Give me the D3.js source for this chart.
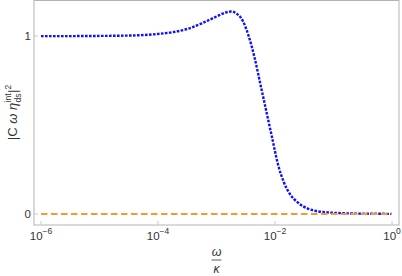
<!DOCTYPE html>
<html><head><meta charset="utf-8">
<script src="https://cdn.jsdelivr.net/npm/d3@7"></script>
<style>body{margin:0;background:#fff}svg{display:block}text{font-family:"Liberation Sans",Arial,sans-serif;fill:#333}</style>
</head><body>
<svg id="c" width="402" height="276"></svg>
<script>
// data (log10 of omega/kappa and |C ω η|^2 values)
const logOmega = [-6.0,-5.5,-5.0,-4.5,-4.0,-3.75,-3.5,-3.25,-3.0,-2.85,-2.75,-2.65,-2.55,-2.45,-2.35,-2.25,-2.15,-2.05,-1.95,-1.85,-1.75,-1.6,-1.45,-1.3,-1.1,-0.8,-0.5,0.0];
const seriesA  = [1.000,1.000,1.001,1.003,1.012,1.022,1.040,1.072,1.110,1.132,1.138,1.125,1.085,1.000,0.880,0.730,0.580,0.430,0.280,0.180,0.115,0.062,0.032,0.017,0.009,0.004,0.002,0.001];
const logOmegaB = [-6, 0];
const seriesB  = [0, 0];
const xTickExps = [-6,-4,-2,0];
const yTicks = [0,1];

const svg = d3.select("#c");
const L=34, R=399, T=0.5, B=225;
const pad=7/58.5;
const x = d3.scaleLog().domain([Math.pow(10,-6-pad), Math.pow(10,pad)]).range([L,R]);
const y = d3.scaleLinear().domain([-0.0617,1.2]).range([B,T]);

// frame
svg.append("rect").attr("x",L).attr("y",T).attr("width",R-L).attr("height",B-T)
  .attr("fill","none").attr("stroke","#b4b4b4").attr("stroke-width",1);

// ticks
const tk = svg.append("g");
xTickExps.forEach(e=>{
  const px = x(Math.pow(10,e));
  tk.append("line").attr("x1",px).attr("x2",px).attr("y1",B).attr("y2",B-4).attr("stroke","#c8c8c8");
  const t = tk.append("text").attr("x",px).attr("y",239.5).attr("text-anchor","middle").attr("font-size",11.5);
  t.append("tspan").text("10");
  t.append("tspan").attr("font-size",8.5).attr("dy",-5.5).text(e===0?"0":"\u2212"+(-e));
});
yTicks.forEach(v=>{
  const py = y(v);
  tk.append("line").attr("x1",L).attr("x2",L+4).attr("y1",py).attr("y2",py).attr("stroke","#c8c8c8");
  tk.append("text").attr("x",L-3).attr("y",py+4).attr("text-anchor","end").attr("font-size",11.5).text(v);
});

// lines
const line = d3.line().x(d=>x(Math.pow(10,d[0]))).y(d=>y(d[1])).curve(d3.curveMonotoneX);
svg.append("path").datum(logOmega.map((l,i)=>[l,seriesA[i]]))
  .attr("d",line).attr("fill","none").attr("stroke","#1010f5").attr("stroke-width",2.4)
  .attr("stroke-dasharray","2.6,1.4");
svg.append("path").datum(logOmegaB.map((l,i)=>[l,seriesB[i]]))
  .attr("d",line).attr("fill","none").attr("stroke","#f59a30").attr("stroke-width",1.8)
  .attr("stroke-dasharray","6.5,3.5");

// x label: fraction ω/κ
const cx=(L+R)/2;
svg.append("text").attr("x",cx).attr("y",255.5).attr("text-anchor","middle").attr("font-size",12.5).attr("font-style","italic").text("\u03C9");
svg.append("line").attr("x1",cx-5).attr("x2",cx+5).attr("y1",260).attr("y2",260).attr("stroke","#333").attr("stroke-width",0.8);
svg.append("text").attr("x",cx).attr("y",273).attr("text-anchor","middle").attr("font-size",12).attr("font-style","italic").text("\u03BA");

// y label
const g = svg.append("g").attr("transform","translate(17,112.5) rotate(-90)");
const parts = g.append("g");
const main = parts.append("text").attr("x",0).attr("y",0).attr("font-size",13);
main.append("tspan").text("|C ");
main.append("tspan").attr("font-style","italic").text("\u03C9 \u03B7");
let w = main.node().getComputedTextLength();
const sup = parts.append("text").attr("x",w+0.5).attr("y",-6).attr("font-size",8.5).text("int");
const sub = parts.append("text").attr("x",w+0.5).attr("y",3.5).attr("font-size",8.5).text("ds");
w += Math.max(sup.node().getComputedTextLength(), sub.node().getComputedTextLength())+1;
const bar = parts.append("text").attr("x",w).attr("y",0).attr("font-size",13).text("|");
w += bar.node().getComputedTextLength();
const two = parts.append("text").attr("x",w).attr("y",-6).attr("font-size",8.5).text("2");
w += two.node().getComputedTextLength();
parts.attr("transform",`translate(${-w/2},0)`);
</script>
</body></html>
